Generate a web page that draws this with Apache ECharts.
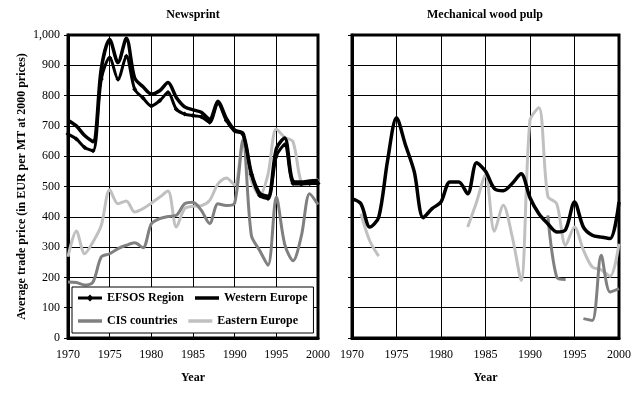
<!DOCTYPE html>
<html><head><meta charset="utf-8">
<script src="https://cdn.jsdelivr.net/npm/echarts@6/dist/echarts.min.js"></script>
<style>html,body{margin:0;padding:0;background:#fff}#c{width:642px;height:394px}</style>
</head><body><div id="c"></div>
<script>
const years = [1970,1971,1972,1973,1974,1975,1976,1977,1978,1979,1980,1981,1982,1983,1984,1985,1986,1987,1988,1989,1990,1991,1992,1993,1994,1995,1996,1997,1998,1999,2000];
const panelTitles = ['Newsprint', 'Mechanical wood pulp'];
const seriesNames = ['EFSOS Region', 'Western Europe', 'CIS countries', 'Eastern Europe'];
const yTicks = [0,100,200,300,400,500,600,700,800,900,1000];

// Newsprint
const newsEFSOS = [673,657,629,618,855,925,854,930,821,792,766,783,810,755,739,734,730,712,775,718,683,672,540,470,460,600,638,510,508,510,510];
const newsWestern = [719,700,668,648,890,985,909,989,858,829,805,816,843,794,763,753,745,722,781,725,686,675,545,478,468,625,660,518,515,518,520];
const newsCIS = [185,183,175,185,268,278,295,306,314,298,377,394,401,405,443,448,421,378,443,437,445,655,339,289,240,465,310,255,336,476,440];
const newsEastern = [268,353,278,317,372,489,443,452,416,427,445,465,485,366,427,435,437,454,509,528,505,645,520,470,540,690,662,648,515,508,525];

// Mechanical wood pulp
const pulpEFSOS = [460,443,366,398,586,727,638,548,397,427,449,515,515,476,578,550,493,486,510,542,463,410,377,350,358,449,366,339,333,328,449];
const pulpCIS = [null,null,null,null,null,null,null,null,null,null,null,null,null,null,null,null,null,null,null,null,null,null,405,201,193,null,64,58,273,152,163];
const pulpEastern = [null,410,320,270,null,null,null,null,null,null,null,null,null,366,449,538,352,438,335,190,718,760,468,443,306,366,290,234,225,204,311];

const FONT = '"Liberation Serif", "Times New Roman", serif';
const pairs = arr => years.map((y, i) => [y, arr[i] == null ? '-' : arr[i]]);

function mk(name, arr, gi, color, width, sym) {
  return {
    name, type: 'line', xAxisIndex: gi, yAxisIndex: gi,
    data: pairs(arr), smooth: 0.3, connectNulls: false,
    symbol: sym ? 'diamond' : 'none', symbolSize: sym ? 5 : 0, showSymbol: !!sym,
    itemStyle: { color }, lineStyle: { color, width },
    emphasis: { disabled: true }, animation: false
  };
}

const grids = [
  { left: 68, top: 35, width: 250, height: 303, show: true, borderColor: '#000', borderWidth: 3, backgroundColor: 'transparent' },
  { left: 352, top: 35, width: 267, height: 303, show: true, borderColor: '#000', borderWidth: 3, backgroundColor: 'transparent' }
];

const xAxes = [0, 1].map(i => ({
  gridIndex: i, type: 'value', min: 1970, max: 2000, interval: 5,
  axisLine: { show: true, lineStyle: { color: '#000', width: 3 } },
  axisTick: { show: false },
  axisLabel: { color: '#000', fontFamily: FONT, fontSize: 12, margin: 11, formatter: v => String(v) },
  splitLine: { show: true, lineStyle: { color: '#000', width: 1 } },
  name: 'Year', nameLocation: 'middle', nameGap: 34,
  nameTextStyle: { color: '#000', fontFamily: FONT, fontSize: 12, fontWeight: 'bold' }
}));

const yAxes = [0, 1].map(i => ({
  gridIndex: i, type: 'value', min: yTicks[0], max: yTicks[yTicks.length - 1], interval: 100,
  axisLine: { show: true, lineStyle: { color: '#000', width: 3 } },
  axisTick: { show: true, inside: false, length: 4, lineStyle: { color: '#000', width: 1 } },
  axisLabel: { show: i === 0, color: '#000', fontFamily: FONT, fontSize: 12, margin: 8,
    formatter: v => v.toLocaleString('en-US') },
  splitLine: { show: true, lineStyle: { color: '#000', width: 1 } },
  name: i === 0 ? 'Average trade price (in EUR per MT at 2000 prices)' : '',
  nameLocation: 'middle', nameGap: 40,
  nameTextStyle: { color: '#000', fontFamily: FONT, fontSize: 12, fontWeight: 'bold' }
}));

const series = [
  mk(seriesNames[3], newsEastern, 0, '#c0c0c0', 3, false),
  mk(seriesNames[2], newsCIS, 0, '#808080', 3, false),
  mk(seriesNames[0], newsEFSOS, 0, '#000', 3, true),
  mk(seriesNames[1], newsWestern, 0, '#000', 3.5, false),
  mk(seriesNames[3], pulpEastern, 1, '#c0c0c0', 3, false),
  mk(seriesNames[2], pulpCIS, 1, '#808080', 3, false),
  mk(seriesNames[0], pulpEFSOS, 1, '#000', 3.5, false)
];

const LINE_ICON = 'path://M0,0 H24 V3.5 H0 Z';
const LINE_MARK_ICON = 'path://M0,4 H24 V7 H0 Z M12,2 L15.5,5.5 L12,9 L8.5,5.5 Z';

const chart = echarts.init(document.getElementById('c'), null, { renderer: 'canvas' });
chart.setOption({
  animation: false,
  backgroundColor: '#fff',
  grid: grids, xAxis: xAxes, yAxis: yAxes, series,
  legend: {
    data: [
      { name: seriesNames[0], icon: LINE_MARK_ICON },
      { name: seriesNames[1], icon: LINE_ICON },
      { name: seriesNames[2], icon: LINE_ICON },
      { name: seriesNames[3], icon: LINE_ICON }
    ],
    left: 72, top: 287, width: 235,
    orient: 'horizontal', itemWidth: 24, itemHeight: 12, itemGap: 11,
    padding: [5, 6, 6, 6], backgroundColor: '#fff', borderColor: '#000', borderWidth: 1,
    selectedMode: false, z: 10,
    textStyle: { color: '#000', fontFamily: FONT, fontSize: 12, fontWeight: 'bold', width: 80 }
  },
  graphic: [
    { type: 'text', x: 193, y: 15, z: 10, style: { text: panelTitles[0], align: 'center', verticalAlign: 'middle', font: 'bold 12px ' + FONT, fill: '#000' } },
    { type: 'text', x: 485, y: 15, z: 10, style: { text: panelTitles[1], align: 'center', verticalAlign: 'middle', font: 'bold 12px ' + FONT, fill: '#000' } }
  ]
});
</script>
</body></html>
